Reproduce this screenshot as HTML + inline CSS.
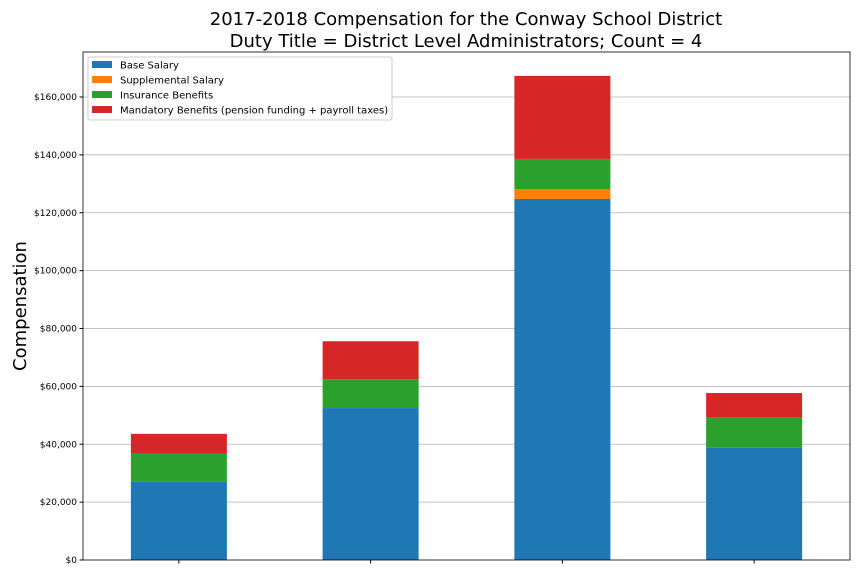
<!DOCTYPE html>
<html><head><meta charset="utf-8"><style>
body{margin:0;background:#fff;font-family:"Liberation Sans","DejaVu Sans",sans-serif;}
</style></head><body>
<svg id="chart" width="864" height="576" xmlns="http://www.w3.org/2000/svg" font-family="DejaVu Sans, Liberation Sans, sans-serif">
<text x="466" y="25" text-anchor="middle" font-size="18">2017-2018 Compensation for the Conway School District</text>
<text x="466" y="47" text-anchor="middle" font-size="18">Duty Title = District Level Administrators; Count = 4</text>
<text transform="translate(26,306) rotate(-90)" text-anchor="middle" font-size="18">Compensation</text>
<g id="grid"></g><g id="bars"></g><g id="axes"></g>
<g>
<rect x="88" y="57" width="304" height="63" fill="#fff" stroke="#ccc" rx="2"/>
<g id="legend"></g>
</g>
</svg>
<script>
const categories=["Admin 1","Admin 2","Admin 3","Admin 4"];
const baseSalary=[27000,52500,124750,38800];
const supplementalSalary=[0,0,3450,0];
const insuranceBenefits=[9700,10000,10400,10600];
const mandatoryBenefits=[6900,13100,28700,8300];
const yTicks=[0,20000,40000,60000,80000,100000,120000,140000,160000];
const seriesNames=["Base Salary","Supplemental Salary","Insurance Benefits","Mandatory Benefits (pension funding + payroll taxes)"];
const seriesData=[baseSalary,supplementalSalary,insuranceBenefits,mandatoryBenefits];
const colors=["#1f77b4","#ff7f0e","#2ca02c","#d62728"];
const NS="http://www.w3.org/2000/svg";
const L=83,R=850,T=52,B=560;
const y=v=>B-(v/160000)*(B-97);
const bandW=(R-L)/categories.length;
const xc=i=>L+bandW*(i+0.5);
const bw=96;
function mk(tag,attrs,parent){const e=document.createElementNS(NS,tag);for(const k in attrs)e.setAttribute(k,attrs[k]);parent.appendChild(e);return e;}
const grid=document.getElementById('grid'),bars=document.getElementById('bars'),axes=document.getElementById('axes'),legend=document.getElementById('legend');
yTicks.forEach(t=>{
 if(t>0){const g=mk('line',{x1:L,x2:R,y1:y(t),y2:y(t),stroke:'#b0b0b0','stroke-width':0.8},grid);
 
 }
 mk('line',{x1:L-3.5,x2:L,y1:y(t),y2:y(t),stroke:'#000'},axes);
 const tx=mk('text',{x:L-6,y:y(t)+3,'text-anchor':'end','font-size':9},axes);
 tx.textContent='$'+t.toLocaleString('en-US');
 
 
});
categories.forEach((c,i)=>{
 let cum=0;
 seriesData.forEach((s,j)=>{
  const v=s[i];
  if(v>0){const r=mk('rect',{x:xc(i)-bw/2,y:y(cum+v),width:bw,height:y(cum)-y(cum+v),fill:colors[j]},bars);
  
  }
  cum+=v;
 });
 mk('line',{x1:xc(i),x2:xc(i),y1:B,y2:B+3.5,stroke:'#000'},axes);
});
const fr=mk('rect',{x:L,y:T,width:R-L,height:B-T,fill:'none',stroke:'#000','stroke-width':0.8},axes);


seriesNames.forEach((n,j)=>{
 const yy=65+j*15;
 mk('rect',{x:92,y:yy-4,width:20,height:7,fill:colors[j]},legend);
 const t=mk('text',{x:120,y:yy+3.5,'font-size':10},legend);
 t.textContent=n;
 
 
});
</script>
</body></html>
